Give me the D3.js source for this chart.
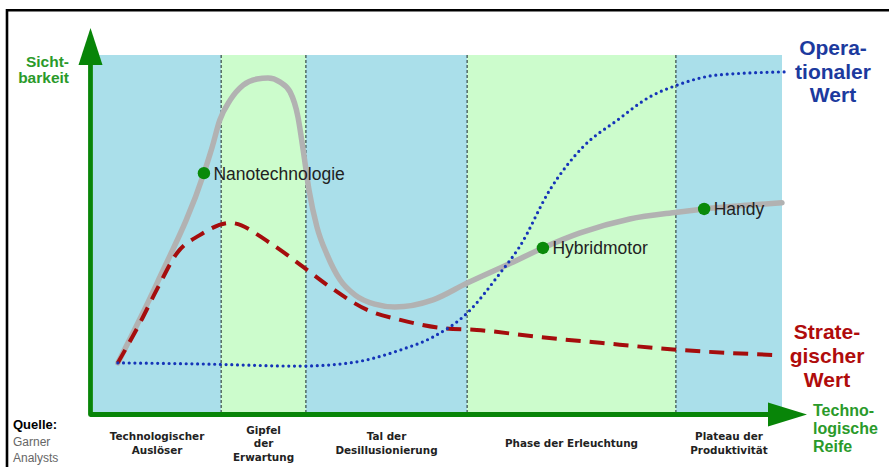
<!DOCTYPE html>
<html><head><meta charset="utf-8">
<script src="https://cdn.jsdelivr.net/npm/d3@7"></script>
<style>body{margin:0;background:#fff} svg{display:block}</style>
</head><body><svg id="c" width="889" height="467"></svg>
<script>
// ---- data ----
const phaseBounds = [0, 18.6, 30.9, 54.3, 84.6, 100];
const phaseLabels = [["Technologischer","Auslöser"],["Gipfel","der","Erwartung"],["Tal der","Desillusionierung"],["Phase der Erleuchtung"],["Plateau der","Produktivität"]];
const phaseKinds = ["blue","green","blue","green","blue"];

const hypeX = [3.6, 9.3, 16.1, 17.3, 18.4, 19.9, 21.8, 23.8, 25.4, 27.1, 28.6, 29.75, 30.5, 31.35, 32.5, 34.0, 35.85, 38.0, 40.9, 43.8, 49.35, 54.3, 61.0, 65.3, 70.7, 77.9, 84.8, 88.7, 100];
const hypeY = [14.0, 36.3, 67.0, 74.3, 81.8, 87.4, 91.6, 93.3, 93.6, 92.5, 89.7, 82.7, 73.5, 62.3, 52.0, 44.1, 37.2, 33.0, 30.4, 29.6, 31.6, 36.3, 42.2, 46.1, 50.3, 54.2, 56.1, 57.0, 58.7];

const stratX = [3.6, 6.8, 9.3, 12.2, 15.5, 19.9, 25.7, 30.5, 34.4, 39.8, 44.6, 50.8, 55.7, 64.9, 73.6, 85.2, 99.0];
const stratY = [14.0, 25.1, 34.6, 44.7, 49.7, 53.1, 47.5, 40.8, 35.2, 28.8, 26.0, 23.7, 23.2, 21.2, 19.6, 17.6, 16.2];

const operX = [3.6, 15.5, 30.0, 37.3, 44.6, 49.3, 54.3, 59.1, 61.9, 66.3, 71.1, 76.1, 80.8, 84.8, 90.6, 100.7];
const operY = [14.0, 13.7, 13.1, 14.0, 17.6, 21.2, 27.9, 39.1, 46.4, 62.3, 74.3, 81.8, 88.3, 91.6, 94.4, 95.3];

const techNames = ["Nanotechnologie", "Hybridmotor", "Handy"];
const techX = [16.1, 65.3, 88.7];
const techY = [67.0, 46.1, 57.0];

const yTitle = ["Sicht-", "barkeit"];
const xTitle = ["Techno-", "logische", "Reife"];
const operTitle = ["Opera-", "tionaler", "Wert"];
const stratTitle = ["Strate-", "gischer", "Wert"];
const sourceLines = ["Quelle:", "Garner", "Analysts"];

// ---- drawing ----
const svg = d3.select("#c");
const x = d3.scaleLinear().domain([0, 100]).range([93, 782]);
const y = d3.scaleLinear().domain([0, 100]).range([413, 55]);
const bandColor = {blue: "#aadfea", green: "#ccfccc"};

// frame
svg.append("path").attr("d", "M7,467 L7,10.3 L889,10.3")
  .attr("fill", "none").attr("stroke", "#000").attr("stroke-width", 2.6);

// bands
const bands = svg.append("g");
phaseKinds.forEach((k, i) => {
  bands.append("rect")
    .attr("x", x(phaseBounds[i])).attr("y", y(100))
    .attr("width", x(phaseBounds[i + 1]) - x(phaseBounds[i]))
    .attr("height", y(0) - y(100))
    .attr("fill", bandColor[k]);
});
// separators
phaseBounds.slice(1, -1).forEach(b => {
  svg.append("line")
    .attr("x1", x(b)).attr("x2", x(b)).attr("y1", y(100)).attr("y2", y(0))
    .attr("stroke", "#2a3a3a").attr("stroke-width", 1.1).attr("stroke-dasharray", "3,2");
});

// phase labels
phaseLabels.forEach((lines, i) => {
  const cx = (x(phaseBounds[i]) + x(phaseBounds[i + 1])) / 2;
  const n = lines.length;
  const t = svg.append("text").attr("text-anchor", "middle")
    .attr("font-family", "DejaVu Sans, Verdana, sans-serif").attr("font-weight", "bold")
    .attr("font-size", 10.4).attr("fill", "#222");
  lines.forEach((l, j) => {
    t.append("tspan").attr("x", cx).attr("y", 447 + (j - (n - 1) / 2) * 13.5).text(l);
  });
});

const green = "#088508";
// axes
svg.append("path")
  .attr("d", `M${x(0) - 2.5},${y(100) + 6} L${x(0) - 2.5},${y(0) + 1.5} L${x(100) - 8},${y(0) + 1.5}`)
  .attr("fill", "none").attr("stroke", green).attr("stroke-width", 4.8).attr("stroke-linejoin", "round");
svg.append("path")
  .attr("d", `M${x(0) - 2.5},28 L${x(0) - 14.5},65 L${x(0) + 9.5},65 Z`).attr("fill", green);
svg.append("path")
  .attr("d", `M${x(100) - 14},${y(0) - 10.5} L${x(100) + 25},${y(0) + 1.5} L${x(100) - 14},${y(0) + 13.5} Z`).attr("fill", green);

// curves
const line = d3.line().x(d => x(d[0])).y(d => y(d[1])).curve(d3.curveMonotoneX);
svg.append("path").datum(hypeX.map((v, i) => [v, hypeY[i]]))
  .attr("d", line).attr("fill", "none").attr("stroke", "#b2b2b2").attr("stroke-width", 5.5)
  .attr("stroke-linecap", "round");
svg.append("path").datum(stratX.map((v, i) => [v, stratY[i]]))
  .attr("d", line).attr("fill", "none").attr("stroke", "#a50d0d").attr("stroke-width", 4)
  .attr("stroke-dasharray", "15,9");
svg.append("path").datum(operX.map((v, i) => [v, operY[i]]))
  .attr("d", line).attr("fill", "none").attr("stroke", "#1534b8").attr("stroke-width", 3.2)
  .attr("stroke-linecap", "round").attr("stroke-dasharray", "0,5.7");

// technology points
techNames.forEach((nm, i) => {
  svg.append("circle").attr("cx", x(techX[i])).attr("cy", y(techY[i])).attr("r", 6.2).attr("fill", "#0a8a0a");
  svg.append("text").attr("x", x(techX[i]) + 9.5).attr("y", y(techY[i]) + 6.5)
    .attr("font-family", "Liberation Sans, Arial, sans-serif").attr("font-size", 17.5)
    .attr("fill", "#222").text(nm);
});

// titles
function block(lines, xPos, y0, dy, anchor, size, color, weight) {
  const t = svg.append("text").attr("text-anchor", anchor)
    .attr("font-family", "Liberation Sans, Arial, sans-serif").attr("font-weight", weight)
    .attr("font-size", size).attr("fill", color);
  lines.forEach((l, j) => t.append("tspan").attr("x", xPos).attr("y", y0 + j * dy).text(l));
  return t;
}
block(yTitle, 69, 67, 15.5, "end", 15.5, "#2a9a2a", "bold");
block(xTitle, 813, 416, 18, "start", 16, "#2a9a2a", "bold");
block(operTitle, 833, 55, 23.5, "middle", 21, "#1c3a9e", "bold");
block(stratTitle, 827, 339, 24, "middle", 21, "#b00c0c", "bold");

const src = svg.append("text").attr("font-family", "Liberation Sans, Arial, sans-serif");
src.append("tspan").attr("x", 13).attr("y", 429).attr("font-weight", "bold").attr("font-size", 13).attr("fill", "#000").text(sourceLines[0]);
src.append("tspan").attr("x", 13).attr("y", 446).attr("font-size", 12).attr("fill", "#666").text(sourceLines[1]);
src.append("tspan").attr("x", 13).attr("y", 462).attr("font-size", 12).attr("fill", "#666").text(sourceLines[2]);
</script></body></html>
